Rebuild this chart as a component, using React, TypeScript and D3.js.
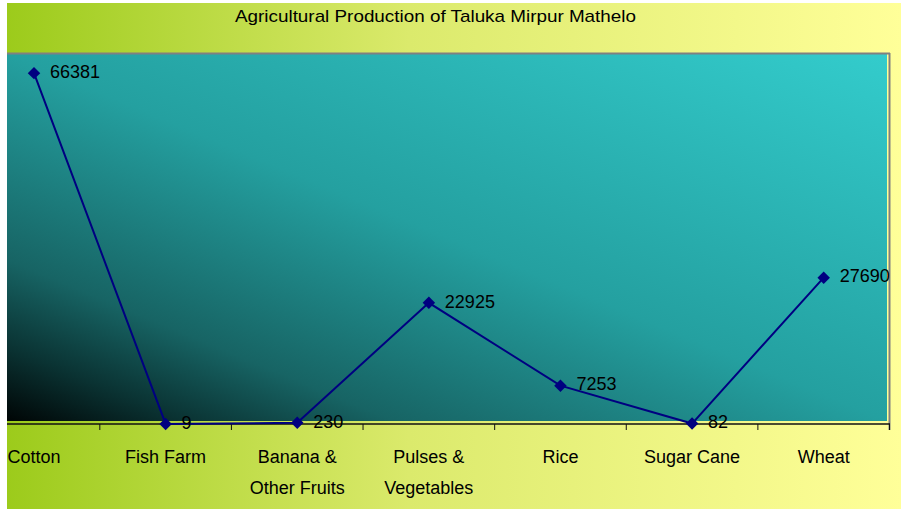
import React from "react";
import * as d3 from "d3";

const categories: string[][] = [
  ["Cotton"],
  ["Fish Farm"],
  ["Banana &", "Other Fruits"],
  ["Pulses &", "Vegetables"],
  ["Rice"],
  ["Sugar Cane"],
  ["Wheat"],
];
const values: number[] = [66381, 9, 230, 22925, 7253, 82, 27690];
const title = "Agricultural Production of Taluka Mirpur Mathelo";

const W = 901;
const H = 510;
const FONT = "'Liberation Sans', Arial, sans-serif";

export default function App() {
  const keys = categories.map((c) => c.join(" "));
  const x = d3.scaleBand<string>().domain(keys).range([-31.8, 889.5]).paddingInner(0).paddingOuter(0);
  const y = d3.scaleLinear().domain([0, 70000]).range([424, 54]);
  const cx = (i: number) => (x(keys[i]) as number) + x.bandwidth() / 2;

  const plotLeft = 7;
  const plotRight = 887;
  const plotTop = 54;
  const plotBottom = 421;

  const line = d3
    .line<number>()
    .x((_, i) => cx(i))
    .y((d) => y(d));

  const tickXs = keys.map((k) => (x(k) as number) + x.bandwidth()).filter((t) => t > plotLeft);
  const marker = d3.symbol(d3.symbolSquare, 78)() || "";

  return (
    <svg width={W} height={H} style={{ position: "absolute", left: 0, top: 0 }} fontFamily={FONT}>
      <defs>
        <linearGradient id="bg" x1="0" y1="0" x2="1" y2="0">
          <stop offset="0" stopColor="#9ccb1b" />
          <stop offset="0.45" stopColor="#dbea6c" />
          <stop offset="1" stopColor="#ffff99" />
        </linearGradient>
        <linearGradient id="plot" x1="0" y1="1" x2="1" y2="0">
          <stop offset="0" stopColor="#000505" />
          <stop offset="0.1" stopColor="#0a3232" />
          <stop offset="0.22" stopColor="#176464" />
          <stop offset="0.5" stopColor="#24a0a0" />
          <stop offset="1" stopColor="#33cccc" />
        </linearGradient>
      </defs>
      <rect x={0} y={0} width={W} height={H} fill="#ffffff" />
      <rect x={7} y={3} width={W - 7} height={506} fill="url(#bg)" />
      <text
        x={435.5}
        y={18}
        textAnchor="middle"
        dominantBaseline="middle"
        fontSize={17}
        textLength={401}
        lengthAdjust="spacingAndGlyphs"
        fill="#000"
      >
        {title}
      </text>
      <rect x={plotLeft} y={plotTop} width={plotRight - plotLeft} height={plotBottom - plotTop} fill="url(#plot)" />
      <line x1={plotLeft} x2={890} y1={plotTop - 0.5} y2={plotTop - 0.5} stroke="#808080" strokeWidth={2} />
      <line x1={889.5} x2={889.5} y1={plotTop - 1} y2={430} stroke="#808080" strokeWidth={2} />
      <line x1={plotLeft} x2={890} y1={424} y2={424} stroke="#111" strokeWidth={1.6} />
      {tickXs.map((t, i) => (
        <line key={i} x1={t} x2={t} y1={424} y2={430} stroke="#111" strokeWidth={1} />
      ))}
      {categories.map((c, i) =>
        c.map((ln, j) => (
          <text
            key={`${i}-${j}`}
            x={cx(i)}
            y={463 + j * 31}
            textAnchor="middle"
            fontSize={18}
            fill="#000"
          >
            {ln}
          </text>
        ))
      )}
      <path d={line(values) || ""} fill="none" stroke="#000080" strokeWidth={2} />
      {values.map((v, i) => (
        <path
          key={i}
          d={marker}
          transform={`translate(${cx(i)},${y(v)}) rotate(45)`}
          fill="#000080"
        />
      ))}
      {values.map((v, i) => (
        <text key={i} x={cx(i) + 16} y={y(v)} dominantBaseline="middle" fontSize={18} fill="#000">
          {v}
        </text>
      ))}
    </svg>
  );
}
